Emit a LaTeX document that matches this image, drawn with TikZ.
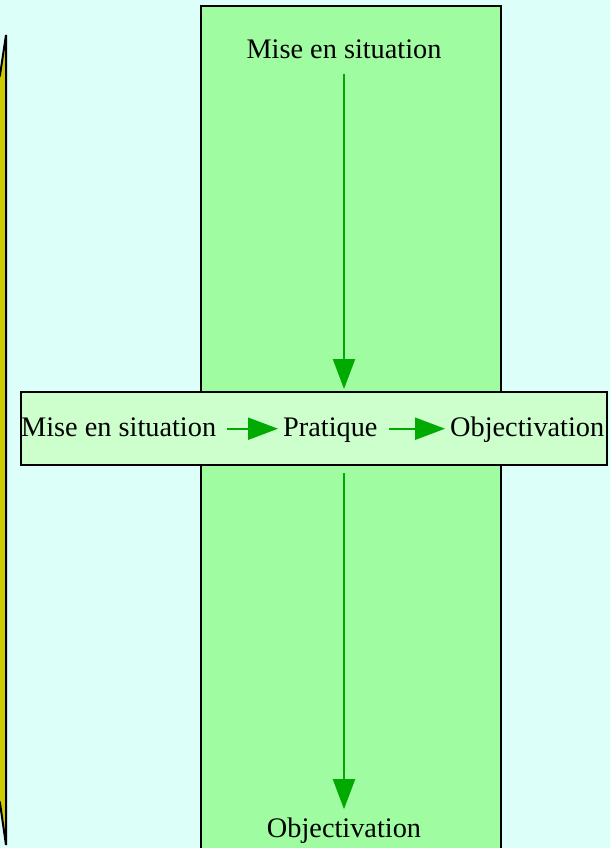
\documentclass[tikz,border=0pt]{standalone}
\usepackage{fontspec}
\setmainfont{Liberation Serif}
\usetikzlibrary{arrows.meta,positioning}
\definecolor{bgcyan}{RGB}{220,255,250}
\definecolor{colgreen}{RGB}{160,252,160}
\definecolor{rowgreen}{RGB}{204,255,204}
\definecolor{sideyellow}{RGB}{204,204,0}
\definecolor{arrowgreen}{RGB}{0,170,0}
\tikzstyle{txt}=[inner sep=0pt, font=\fontsize{28.3bp}{34bp}\selectfont]
\tikzstyle{flow}=[draw=arrowgreen, line width=2.2bp, -{Triangle[length=30bp,width=22bp]}]
\tikzstyle{panel}=[draw=black, line width=2bp]

\begin{document}
\begin{tikzpicture}[x=1bp,y=-1bp]
    % page and background
    \useasboundingbox (0,0) rectangle (610,848);
    \clip (0,0) rectangle (610,848);
    \fill[bgcyan] (0,0) rectangle (610,848);

    % yellow band on the left edge
    \draw[panel, fill=sideyellow] (6,35) -- (6,845) -- (0,803) -- (-10,780) -- (-10,100) -- (0,75) -- cycle;

    % the green column
    \draw[panel, fill=colgreen] (201,6) rectangle (501,870);

    % the row across the column
    \node[panel, fill=rowgreen, minimum width=586bp, minimum height=73bp, inner sep=0pt] (rowbox) at (314,428.5) {};

    % column labels
    \node[txt, anchor=base] (topmise) at (344,58) {Mise en situation};
    \node[txt, anchor=base] (botobj) at (344,837) {Objectivation};

    % row labels
    \node[txt, anchor=base west] (rowmise) at (21,436) {Mise en situation};
    \node[txt, anchor=base west] (rowprat) at (283,436) {Pratique};
    \node[txt, anchor=base west] (rowobj) at (450,436) {Objectivation};

    % arrows in the row
    \foreach \a/\b in {rowmise/rowprat, rowprat/rowobj}{
      \draw[flow, shorten <=11bp, shorten >=5bp] ([yshift=5bp]\a.mid east) -- ([yshift=5bp]\b.mid west);
    }
    % arrows in the column
    \draw[flow, shorten <=16bp, shorten >=2bp] (topmise) -- (topmise |- rowbox.north);
    \draw[flow, shorten <=7bp, shorten >=8bp] (topmise |- rowbox.south) -- (botobj);
  \end{tikzpicture}
\end{document}
